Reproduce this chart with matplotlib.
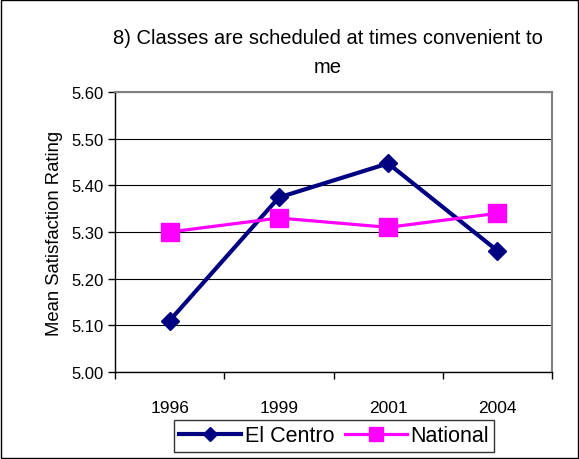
import matplotlib
matplotlib.use('Agg')
import matplotlib.pyplot as plt
from matplotlib.patches import Rectangle

# data
years = ['1996', '1999', '2001', '2004']
el_centro = [5.11, 5.374, 5.447, 5.26]
national = [5.30, 5.33, 5.31, 5.34]
y_ticks = [5.00, 5.10, 5.20, 5.30, 5.40, 5.50, 5.60]

plt.rcParams['font.family'] = ['Liberation Sans', 'DejaVu Sans']

fig = plt.figure(figsize=(5.79, 4.60), dpi=100)
ax = fig.add_axes([115/579, 87/460, 437/579, 280/460])

x = list(range(1, len(years) + 1))
ax.plot(x, el_centro, color='#000080', lw=3, marker='D', ms=9,
        label='El Centro', zorder=3)
ax.plot(x, national, color='#FF00FF', lw=2.3, marker='s', ms=13,
        label='National', zorder=4)

ax.set_xlim(0.5, len(years) + 0.5)
ax.set_ylim(5.0, 5.6)
ax.set_yticks(y_ticks)
ax.set_yticklabels([f'{v:.2f}' for v in y_ticks], fontsize=12)
ax.set_xticks(x)
ax.set_xticklabels(years, fontsize=12.5)
ax.set_xticks([i + 0.5 for i in range(len(years) + 1)], minor=True)
ax.tick_params(axis='x', which='major', length=0, pad=20)
ax.tick_params(axis='x', which='minor', length=5, direction='out', width=1)
ax.tick_params(axis='y', length=5, direction='out', width=1, pad=3)
ax.grid(axis='y', color='black', lw=0.8)
ax.set_axisbelow(True)

for s in ['top', 'right']:
    ax.spines[s].set_color('#808080')
    ax.spines[s].set_linewidth(1.5)
for s in ['left', 'bottom']:
    ax.spines[s].set_color('black')
    ax.spines[s].set_linewidth(1)

ax.set_ylabel('Mean Satisfaction Rating', fontsize=13.3, labelpad=6)
fig.text(328/579, 1 - 53/460,
         '8) Classes are scheduled at times convenient to\nme',
         ha='center', va='center', fontsize=14.5, linespacing=1.65)

leg = fig.legend(loc='center', bbox_to_anchor=(334/579, 1 - 437/460),
                 ncol=2, frameon=True, fancybox=False,
                 prop={'size': 15.5},
                 handlelength=2.9, handletextpad=0.15, columnspacing=0.5,
                 borderpad=0.25, borderaxespad=0, markerscale=0.8)
leg.get_frame().set_edgecolor('black')
leg.get_frame().set_linewidth(1)

fig.patches.append(Rectangle((1/579, 1/460), 577/579, 458/460,
                             transform=fig.transFigure, fill=False,
                             edgecolor='black', lw=1))

fig.savefig('out.png', dpi=100)
